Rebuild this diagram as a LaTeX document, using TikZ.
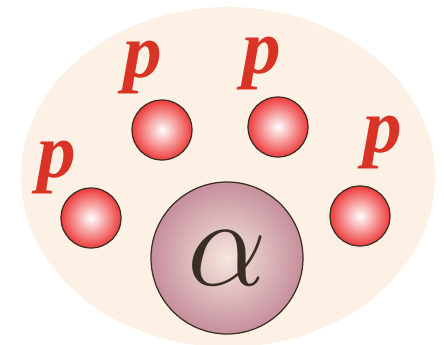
\documentclass[tikz,border=0pt]{standalone}
\usepackage{fix-cm}
\usepackage{fontspec}
\setmainfont{Liberation Serif}
\usepackage{xcolor}
\usepackage{tikz}
\usetikzlibrary{shapes.geometric}

\definecolor{nucbg}{HTML}{FDF0E4}
\definecolor{protred}{HTML}{EE3B3B}
\definecolor{labred}{HTML}{D93326}
\definecolor{alphaout}{HTML}{C68E9C}
\definecolor{alphain}{HTML}{F5E6DE}
\definecolor{rimcol}{HTML}{3A2E24}

\begin{document}
\begin{tikzpicture}[
  x=0.02cm, y=-0.02cm,
  nucleus/.style={ellipse, fill=nucbg, minimum width=8.28cm, minimum height=6.8cm},
  proton/.style={circle, draw=rimcol, line width=0.7pt, inner color=white, outer color=protred, minimum size=1.2cm},
  alphapart/.style={circle, draw=rimcol, line width=0.7pt, inner color=alphain, outer color=alphaout, minimum size=3.04cm, font=\fontsize{72}{72}\selectfont, text=rimcol},
  plabel/.style={text=labred, font=\fontsize{44}{44}\selectfont\bfseries\itshape}
]
\useasboundingbox (0,0) rectangle (444,345);
\node[nucleus] (nuc) at (228,177) {};

\node[proton] (p1) at (91,218) {};
\node[proton] (p2) at (162,130) {};
\node[proton] (p3) at (278,127) {};
\node[proton] (p4) at (360,216) {};
\node[alphapart] (alpha) at (227,258) {\raisebox{-0.16cm}{$\alpha$}};

% labels
\node[plabel] (l1) at (57,168) {p};
\node[plabel] (l2) at (143,68) {p};
\node[plabel] (l3) at (262,64) {p};
\node[plabel] (l4) at (383,143) {p};
\end{tikzpicture}
\end{document}
